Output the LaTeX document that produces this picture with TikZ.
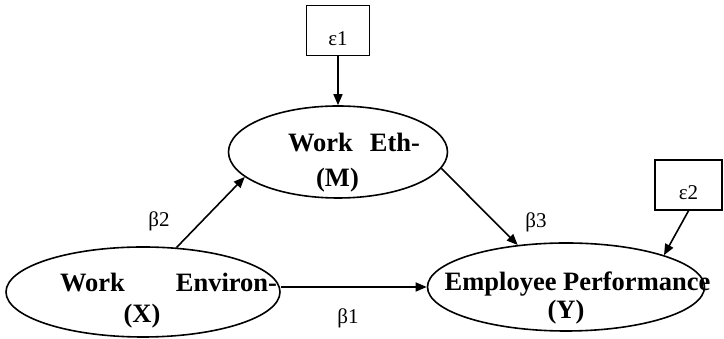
\documentclass[tikz,border=0pt]{standalone}
\usepackage{fontspec}
\setmainfont{Liberation Serif}
\usetikzlibrary{arrows.meta,positioning,shapes.geometric}

\begin{document}
\begin{tikzpicture}[
    x=1pt, y=1pt,
    node distance=49pt,
    every node/.style={font=\fontsize{21}{24}\selectfont},
    latent/.style={draw, ellipse, line width=1.6pt, inner sep=0pt},
    varname/.style={font=\bfseries\fontsize{26.5}{31}\selectfont, align=center, inner sep=0pt},
    errbox/.style={draw, rectangle, line width=1.6pt, minimum width=63pt, minimum height=50pt, text height=30pt, text depth=0pt, inner sep=0pt},
    coef/.style={inner sep=0pt},
    flow/.style={-{Triangle[length=11pt, width=9pt]}, line width=1.6pt}
]
\useasboundingbox (0,0) rectangle (724,339);
\node[latent, minimum width=274pt, minimum height=90pt] (env) at (143,47) {};
\node[latent, minimum width=219pt, minimum height=92pt] (ethic) at (338,187) {};
\node[latent, minimum width=277pt, minimum height=88pt] (perf) at (566,52) {};
\node[varname] (envtext) at (168.5,38) {\makebox[217pt]{Work\hfill Environ-}\\\makebox[217pt]{(X)\hspace*{53pt}}};
\node[varname] (ethictext) at (354,176) {\makebox[132pt]{Work\hfill Eth-}\\[4pt]\makebox[132pt]{(M)\hspace*{33pt}}};
\node[varname] (perftext) at (577.5,41) {Employee Performance\\[-3pt]\makebox[0pt]{(Y)\hspace*{23pt}}};
\node[errbox, above=of ethic] (e1) {ε1};
\node[errbox, minimum width=67pt] (e2) at (688.5,154) {ε2};
\node[coef] (b1) at (348,21) {β1};
\node[coef] (b2) at (159,118) {β2};
\node[coef] (b3) at (536,117) {β3};
\draw[flow] (e1.south) -- (ethic.north);
\draw[flow] (env.53) -- (ethic.195);
\draw[flow] (ethic.-9) -- (perf.139);
\draw[flow] (env.east |- perf.west) -- (perf.west);
\draw[flow] (e2.south) -- (perf.18);
\end{tikzpicture}
\end{document}
